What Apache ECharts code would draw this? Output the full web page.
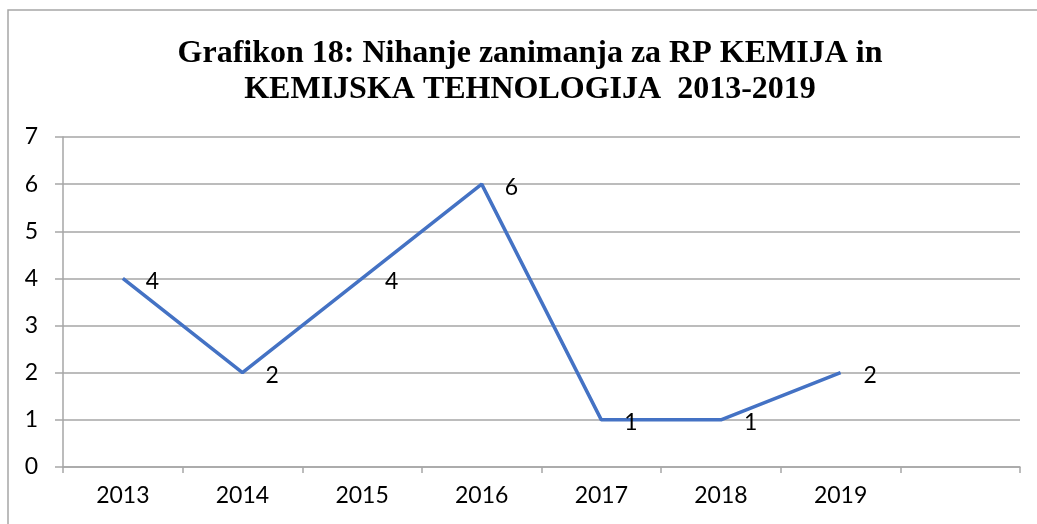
<!DOCTYPE html>
<html>
<head>
<meta charset="utf-8">
<script src="https://cdn.jsdelivr.net/npm/echarts@6/dist/echarts.min.js"></script>
<style>
  html, body { margin: 0; padding: 0; background: #fff; }
  #chart { width: 1037px; height: 524px; }
</style>
</head>
<body>
<div id="chart"></div>
<script>
// kategorije (zadnja je prazna, kot v izvirniku)
const years = ['2013', '2014', '2015', '2016', '2017', '2018', '2019', ''];
const values = [4, 2, 4, 6, 1, 1, 2, null];
const titleText = 'Grafikon 18: Nihanje zanimanja za RP KEMIJA in\nKEMIJSKA TEHNOLOGIJA  2013-2019';

const gridGray = '#a6a6a6';
const labelFont = 'Lato, "Open Sans", sans-serif';

const chart = echarts.init(document.getElementById('chart'), null, { renderer: 'canvas' });

chart.setOption({
  backgroundColor: '#fff',
  animation: false,
  graphic: [
    {
      type: 'rect',
      shape: { x: 8, y: 10, width: 1200, height: 700 },
      style: { fill: 'none', stroke: '#a6a6a6', lineWidth: 1.5 },
      silent: true,
      z: -1
    }
  ],
  title: {
    text: titleText,
    left: 530,
    textAlign: 'center',
    top: 36,
    padding: 0,
    textStyle: {
      fontFamily: '"Liberation Serif", "Times New Roman", serif',
      fontWeight: 'bold',
      fontSize: 32,
      lineHeight: 36,
      color: '#000'
    }
  },
  grid: { left: 63, right: 17, top: 137, bottom: 57 },
  xAxis: {
    type: 'category',
    data: years,
    boundaryGap: true,
    axisLine: { show: true, lineStyle: { color: gridGray, width: 1.5 } },
    axisTick: { show: true, length: 6, lineStyle: { color: gridGray, width: 1.5 } },
    axisLabel: { color: '#000', fontFamily: labelFont, fontSize: 23, margin: 17 },
    splitLine: { show: false }
  },
  yAxis: {
    type: 'value',
    min: 0,
    max: 7,
    interval: 1,
    axisLine: { show: true, lineStyle: { color: gridGray, width: 1.5 } },
    axisTick: { show: true, length: 8, lineStyle: { color: gridGray, width: 1.5 } },
    axisLabel: { color: '#000', fontFamily: labelFont, fontSize: 23, margin: 25 },
    splitLine: { show: true, lineStyle: { color: gridGray, width: 1.5 } }
  },
  series: [
    {
      type: 'line',
      data: values,
      symbol: 'circle',
      symbolSize: 2,
      showSymbol: true,
      itemStyle: { color: 'rgba(68,114,196,0)', borderWidth: 0 },
      lineStyle: { color: '#4472c4', width: 3.5 },
      label: {
        show: true,
        position: 'right',
        distance: 22,
        offset: [0, 3],
        color: '#000',
        fontFamily: labelFont,
        fontSize: 23
      }
    }
  ]
});
</script>
</body>
</html>
